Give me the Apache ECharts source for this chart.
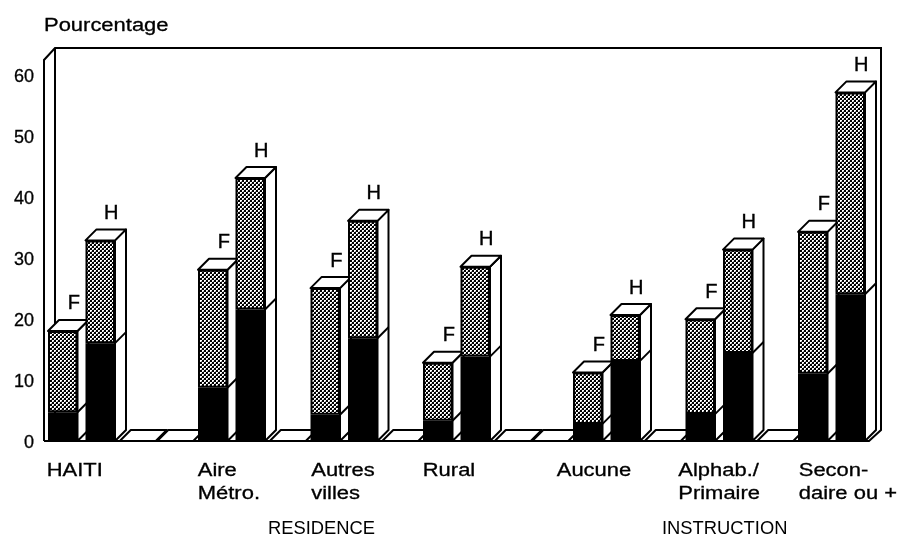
<!DOCTYPE html>
<html>
<head>
<meta charset="utf-8">
<style>html,body{margin:0;padding:0;background:#fff}#c{width:903px;height:535px}</style>
<script src="https://cdn.jsdelivr.net/npm/echarts@6/dist/echarts.min.js"></script>
</head>
<body>
<div id="c"></div>
<script>
// ---- data ----
const slots = ['HAITI-F','HAITI-H','a','b','Aire-F','Aire-H','c','Autres-F','Autres-H','d','Rural-F','Rural-H','e','f','Aucune-F','Aucune-H','g','Alphab-F','Alphab-H','h','Secon-F','Secon-H'];
const genders = ['F','H','','','F','H','','F','H','','F','H','','','F','H','','F','H','','F','H'];
const blackValues  = [4.7,16,null,null,8.7,21.5,null,4.3,16.8,null,3.3,13.8,null,null,2.8,13.1,null,4.4,14.4,null,11,24];
const dottedValues = [13.3,16.8,null,null,19.3,21.5,null,20.7,19.2,null,9.5,14.7,null,null,8.4,7.5,null,15.5,16.9,null,23.2,33];
const yTicks = [0,10,20,30,40,50,60];
const xLabels = ['HAITI','Aire\nMétro.','Autres\nvilles','Rural','Aucune','Alphab./\nPrimaire','Secon-\ndaire ou +'];
const xLabelSlots = [0,4,7,10,14,17,20];
const xLabelShift = [-16,-15,-14,-15,-31,-22,-14];
const FONT = '"Liberation Sans", Arial, sans-serif';
const DEPTH = 11, BAR_W = 29.5, FLOOR_W = 36, STRETCH = 1.22;

// dotted fill
const pat = document.createElement('canvas');
pat.width = 4; pat.height = 4;
const g = pat.getContext('2d');
g.fillStyle = '#000'; g.fillRect(0,0,4,4);
g.fillStyle = '#fff';
g.fillRect(0,0,2,2); g.fillRect(2,2,2,2);
g.fillStyle = '#999';
g.fillRect(1,1,1,1); g.fillRect(3,3,1,1);
const dotted = {image: pat, repeat: 'repeat'};

const chart = echarts.init(document.getElementById('c'), null, {renderer:'canvas'});

function poly(points, fill, lw){
  return {type:'polygon', shape:{points}, style:{fill, stroke:'#000', lineWidth:lw||2, lineJoin:'round'}};
}

function renderFrame(params, api){
  const r = params.coordSys;
  const L = r.x, R = r.x + r.width, T = r.y, B = r.y + r.height;
  const d = DEPTH;
  const st = {fill:'none', stroke:'#000', lineWidth:2};
  return {type:'group', children:[
    {type:'polyline', shape:{points:[[L,B],[L,T],[L+d,T-12],[R+d+1,T-12],[R+d+1,B-d],[R,B],[L,B]]}, style:st},
    {type:'line', shape:{x1:L+d,y1:T-12,x2:L+d,y2:B-d}, style:st}
  ]};
}

function renderDepth(params, api){
  const idx = api.value(0);
  const c0 = api.coord([idx,0]);
  const xl = c0[0] - BAR_W/2, xr = c0[0] + BAR_W/2;
  const b = blackValues[idx], m = dottedValues[idx];
  const d = DEPTH;
  if (b == null) {
    const fl = c0[0] - FLOOR_W/2, fr = c0[0] + FLOOR_W/2 ;
    return poly([[fl,c0[1]],[fr,c0[1]],[fr+d,c0[1]-d],[fl+d,c0[1]-d]], '#fff');
  }
  const yb = api.coord([idx,b])[1], yt = api.coord([idx,b+m])[1], y0 = c0[1];
  return {type:'group', children:[
    poly([[xr,y0],[xr+d,y0-d],[xr+d,yt-d],[xr,yt]], '#fff'),
    {type:'line', shape:{x1:xr,y1:yb,x2:xr+d,y2:yb-d}, style:{stroke:'#000',lineWidth:2}},
    poly([[xl,yt],[xr,yt],[xr+d,yt-d],[xl+d,yt-d]], '#fff'),
    {type:'text', style:{x:c0[0]+11, y:yt-27, text:genders[idx], font:'20px '+FONT, fill:'#000', stroke:'#000', lineWidth:0.4, align:'center', verticalAlign:'middle'}}
  ]};
}

function renderXLabel(params, api){
  const i = params.dataIndex;
  const c = api.coord([xLabelSlots[i],0]);
  return {type:'text', x:c[0]+xLabelShift[i], y:c[1]+18, scaleX:STRETCH,
    style:{text:xLabels[i], font:'18px '+FONT, lineHeight:23.5, fill:'#000', stroke:'#000', lineWidth:0.3, align:'left', verticalAlign:'top'}};
}

chart.setOption({
  animation:false,
  backgroundColor:'#fff',
  grid:{left:44, right:34, top:60, bottom:94, containLabel:false},
  xAxis:{type:'category', data:slots, axisTick:{show:false}, axisLabel:{show:false}, axisLine:{show:false}, splitLine:{show:false}},
  yAxis:{type:'value', min:0, max:62.3, interval:10,
    axisLine:{show:false}, axisTick:{show:false}, splitLine:{show:false},
    axisLabel:{customValues:yTicks, margin:10, formatter:'{a|{value}}',
      rich:{a:{fontFamily:FONT, fontSize:18, color:'#000', padding:[5,0,0,0], textBorderColor:'#000', textBorderWidth:0.3}}}},
  graphic:[
    {type:'text', x:44, y:17, scaleX:STRETCH, style:{text:'Pourcentage', font:'18px '+FONT, fill:'#000', stroke:'#000', lineWidth:0.3}},
    {type:'text', x:268, y:520, scaleX:1.02, style:{text:'RESIDENCE', font:'18px '+FONT, fill:'#000'}},
    {type:'text', x:662, y:520, scaleX:1.02, style:{text:'INSTRUCTION', font:'18px '+FONT, fill:'#000'}}
  ],
  series:[
    {type:'custom', name:'frame', data:[[0]], renderItem:renderFrame, z:1, clip:false, silent:true},
    {type:'custom', name:'depth', data:slots.map((s,i)=>[i]), encode:{x:0}, renderItem:renderDepth, z:2, clip:false, silent:true},
    {type:'custom', name:'xlabels', data:xLabels.map((s,i)=>[i]), renderItem:renderXLabel, z:5, clip:false, silent:true},
    {type:'bar', name:'noir', stack:'t', data:blackValues, barWidth:BAR_W, z:3, itemStyle:{color:'#000', borderColor:'#000', borderWidth:2}},
    {type:'bar', name:'trame', stack:'t', data:dottedValues, barWidth:BAR_W, z:3, itemStyle:{color:dotted, borderColor:'#000', borderWidth:2}}
  ]
});
</script>
</body>
</html>
